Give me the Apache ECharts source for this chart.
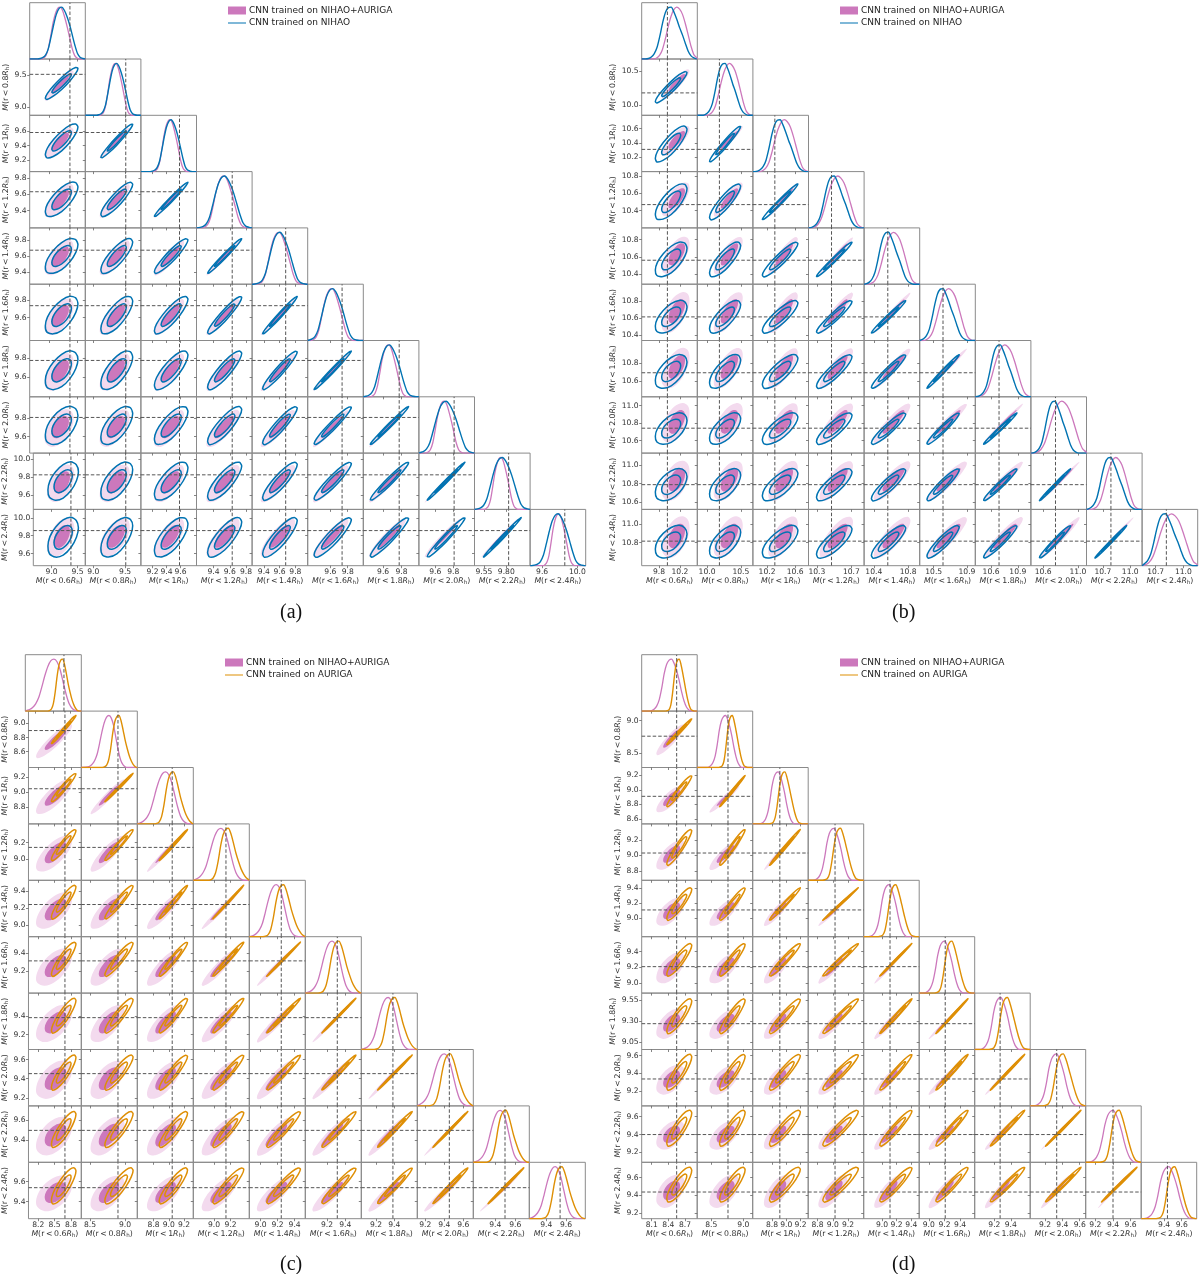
<!DOCTYPE html>
<html><head><meta charset="utf-8">
<style>html,body{margin:0;padding:0;background:#fff}#c{width:1200px;height:1274px}</style>
<script src="https://cdn.jsdelivr.net/npm/echarts@6/dist/echarts.min.js"></script>
</head><body><div id="c"></div>
<script>
const radii = ['0.6','0.8','1','1.2','1.4','1.6','1.8','2.0','2.2','2.4'];
const legendMag = 'CNN trained on NIHAO+AURIGA', legendBlue = 'CNN trained on NIHAO', legendOrange = 'CNN trained on AURIGA';
const purple = '#CC78BC', purpleLight = '#F3DAEE', blue = '#0173B2', orange = '#DE8F05';

// axis ranges per variable
const aMin = [8.645,8.874,9.033,9.19,9.25,9.338,9.385,9.418,9.446,9.464];
const aMax = [9.651,9.748,9.828,9.875,9.957,9.98,9.989,10.037,10.065,10.094];
const bMin = [9.47,9.856,10.0,10.203,10.287,10.332,10.424,10.458,10.52,10.552];
const bMax = [10.53,10.678,10.788,10.848,10.935,11.0,11.047,11.1,11.13,11.155];
const cMin = [8.021,8.376,8.585,8.752,8.867,8.964,9.04,9.116,9.18,9.227];
const cMax = [8.99,9.176,9.323,9.424,9.526,9.575,9.651,9.705,9.74,9.796];
const dMin = [7.92,8.28,8.53,8.677,8.75,8.877,8.96,9.03,9.09,9.14];
const dMax = [8.92,9.145,9.307,9.407,9.509,9.587,9.637,9.669,9.72,9.77];

// true values (dashed lines)
const aTruth = [9.373,9.51,9.585,9.63,9.677,9.735,9.775,9.81,9.826,9.857];
const bTruth = [9.96,10.183,10.311,10.47,10.563,10.612,10.69,10.742,10.788,10.815];
const cTruth = [8.69,8.9,9.045,9.144,9.243,9.313,9.385,9.453,9.497,9.54];
const dTruth = [8.55,8.76,8.91,9.03,9.11,9.21,9.27,9.335,9.4,9.438];

// tick labels
const aXTicks = [[9,9.5],[9,9.5],[9.2,9.4,9.6],[9.4,9.6,9.8],[9.4,9.6,9.8],[9.6,9.8],[9.6,9.8],[9.6,9.8],[9.55,9.8],[9.6,10]];
const bXTicks = [[9.8,10.2],[10,10.5],[10.2,10.6],[10.3,10.7],[10.4,10.8],[10.5,10.9],[10.6,10.9],[10.6,11],[10.7,11],[10.7,11]];
const cXTicks = [[8.2,8.5,8.8],[8.5,9],[8.8,9,9.2],[9,9.2],[9,9.2,9.4],[9.2,9.4],[9.2,9.4],[9.2,9.4,9.6],[9.4,9.6],[9.4,9.6]];
const dXTicks = [[8.1,8.4,8.7],[8.5,9],[8.8,9,9.2],[8.8,9,9.2],[9,9.2,9.4],[9,9.2,9.4],[9.2,9.4],[9.2,9.4,9.6],[9.2,9.4,9.6],[9.4,9.6]];
const aYTicks = [[],[9,9.5],[9.2,9.4,9.6],[9.4,9.6,9.8],[9.4,9.6,9.8],[9.6,9.8],[9.6,9.8],[9.6,9.8],[9.6,9.8,10],[9.6,9.8,10]];
const bYTicks = [[],[10,10.5],[10.2,10.4,10.6],[10.4,10.6,10.8],[10.4,10.6,10.8],[10.4,10.6,10.8],[10.6,10.8],[10.6,10.8,11],[10.6,10.8,11],[10.8,11]];
const cYTicks = [[],[8.6,8.8,9],[8.8,9,9.2],[9,9.2],[9,9.2,9.4],[9.2,9.4],[9.2,9.4],[9.2,9.4,9.6],[9.4,9.6],[9.4,9.6]];
const dYTicks = [[],[8.5,9],[8.6,8.8,9,9.2],[8.8,9,9.2],[9,9.2,9.4],[9,9.2,9.4],[9.05,9.3,9.55],[9.2,9.4,9.6],[9.2,9.4,9.6],[9.2,9.4,9.6]];

// posterior peak, width and outer-contour half extent per variable
const aMagMu = [9.198,9.355,9.454,9.533,9.596,9.62,9.663,9.703,9.743,9.792];
const aMagSig = [.131,.096,.091,.103,.106,.093,.076,.079,.071,.069];
const aMagExt = [.262,.236,.215,.205,.219,.205,.199,.204,.204,.214];
const aBlueMu = [9.223,9.369,9.466,9.537,9.604,9.627,9.669,9.721,9.756,9.781];
const aBlueSig = [.146,.107,.101,.114,.113,.103,.097,.11,.105,.101];
const aBlueExt = [.295,.25,.24,.21,.22,.215,.208,.21,.21,.222];
const bMagMu = [10.138,10.331,10.444,10.541,10.63,10.679,10.754,10.814,10.841,10.87];
const bMagSig = [.166,.126,.131,.115,.11,.114,.112,.122,.101,.121];
const bMagExt = [.265,.214,.209,.194,.214,.24,.221,.225,.214,.22];
const bBlueMu = [10.032,10.267,10.386,10.502,10.572,10.613,10.704,10.737,10.787,10.808];
const bBlueSig = [.164,.115,.121,.099,.097,.1,.093,.091,.093,.099];
const bBlueExt = [.302,.23,.252,.206,.2,.194,.187,.18,.174,.175];
const cMagMu = [8.517,8.771,8.958,9.084,9.185,9.257,9.333,9.4,9.45,9.491];
const cMagSig = [.16,.102,.121,.11,.099,.092,.092,.097,.085,.086];
const cMagExt = [.331,.243,.227,.214,.212,.2,.2,.198,.19,.178];
const cOrangeMu = [8.667,8.914,9.06,9.172,9.271,9.331,9.407,9.464,9.506,9.559];
const cOrangeSig = [.098,.09,.094,.093,.092,.086,.086,.087,.078,.08];
const cOrangeExt = [.225,.202,.187,.186,.198,.186,.189,.184,.179,.182];
const dMagMu = [8.459,8.723,8.888,9.016,9.099,9.204,9.279,9.334,9.403,9.455];
const dMagSig = [.135,.099,.089,.093,.095,.092,.088,.089,.096,.096];
const dMagExt = [.255,.234,.186,.19,.19,.192,.18,.166,.161,.183];
const dOrangeMu = [8.597,8.828,8.981,9.103,9.19,9.296,9.36,9.411,9.471,9.521];
const dOrangeSig = [.092,.08,.083,.089,.091,.085,.085,.089,.083,.08];
const dOrangeExt = [.225,.199,.216,.234,.22,.206,.21,.204,.202,.195];

// 1D posterior profile, offset in widths
const profileZ = [-2.97,-2.64,-2.31,-1.98,-1.65,-1.32,-.99,-.66,-.33,0,.33,.66,.99,1.32,1.65,1.98,2.31,2.64,2.97];
const aBlueProfile = [0,.01,.03,.08,.2,.42,.66,.86,.97,1,.94,.82,.66,.46,.26,.1,.03,.01,0];
const aMagProfile = [0,0,.02,.07,.2,.44,.7,.88,.98,1,.93,.78,.6,.4,.2,.07,.02,0,0];
const bBlueProfile = [0,.01,.04,.1,.22,.44,.7,.9,.99,1,.9,.76,.6,.46,.3,.15,.06,.02,0];
const bMagProfile = [0,0,.02,.07,.18,.38,.62,.82,.95,1,.96,.86,.68,.46,.24,.08,.02,0,0];
const cOrangeProfile = [0,0,.01,.04,.14,.36,.66,.88,.98,1,.9,.72,.52,.36,.22,.12,.05,.01,0];
const cMagProfile = [.01,.03,.07,.14,.26,.46,.68,.86,.97,1,.95,.8,.56,.32,.14,.05,.01,0,0];
const dOrangeProfile = [0,0,.01,.03,.12,.34,.64,.88,.98,1,.9,.74,.56,.38,.22,.1,.03,.01,0];
const dMagProfile = [0,.01,.04,.1,.22,.44,.72,.9,.98,1,.92,.78,.6,.38,.2,.08,.02,0,0];

// correlations between variable pairs (row by row)
const rhoMag = [[],[.9],[.8,.96],[.7,.87,.98],[.62,.78,.9,.98],[.58,.72,.83,.93,.985],[.54,.66,.77,.87,.95,.99],[.5,.6,.7,.82,.9,.96,.99],[.47,.57,.67,.78,.86,.92,.96,.995],[.45,.55,.65,.75,.82,.89,.93,.97,.995]];
const rhoBlue = [[],[.93],[.82,.97],[.72,.88,.985],[.65,.8,.92,.985],[.6,.74,.85,.94,.985],[.56,.68,.79,.88,.95,.99],[.52,.63,.73,.84,.92,.96,.99],[.5,.6,.7,.8,.88,.93,.97,.995],[.48,.58,.68,.78,.85,.9,.95,.975,.995]];
const rhoOrange = [[],[.99],[.96,.995],[.93,.97,.995],[.9,.95,.985,.998],[.89,.93,.96,.985,.998],[.87,.91,.94,.97,.99,.998],[.86,.89,.92,.95,.97,.99,.998],[.84,.87,.9,.93,.95,.97,.99,.998],[.82,.85,.88,.91,.93,.95,.97,.99,.998]];

// outline of the contours in whitened coordinates
const outerShape = [[1,0],[.86,.5],[.5,.88],[0,1],[-.5,.86],[-.87,.52],[-1,.05],[-.9,-.45],[-.52,-.85],[0,-1.02],[.52,-.85],[.87,-.47]];
const innerShape = [[.6,0],[.52,.3],[.3,.52],[0,.6],[-.3,.52],[-.52,.31],[-.6,.03],[-.53,-.28],[-.3,-.52],[0,-.6],[.3,-.52],[.52,-.29]];
const outerShapeMag = [[.92,0],[.8,.48],[.45,.85],[-.05,1],[-.55,.86],[-.92,.5],[-1.08,0],[-1,-.42],[-.6,-.88],[-.08,-1.03],[.42,-.88],[.8,-.47]];

const figures = [
 {left:29.7,top:2.7,cw:55.6,ch:56.3,min:aMin,max:aMax,truth:aTruth,xt:aXTicks,yt:aYTicks,
  m:[aMagMu,aMagSig,aMagExt,aMagProfile],o:[aBlueMu,aBlueSig,aBlueExt,aBlueProfile],rho:rhoBlue,col:blue,name:legendBlue,tag:'(a)',tx:291,ty:612,lx:223,ly:1},
 {left:641.7,top:2.7,cw:55.6,ch:56.3,min:bMin,max:bMax,truth:bTruth,xt:bXTicks,yt:bYTicks,
  m:[bMagMu,bMagSig,bMagExt,bMagProfile],o:[bBlueMu,bBlueSig,bBlueExt,bBlueProfile],rho:rhoBlue,col:blue,name:legendBlue,tag:'(b)',tx:903,ty:612,lx:835,ly:1},
 {left:25.3,top:654.7,cw:56,ch:56.4,min:cMin,max:cMax,truth:cTruth,xt:cXTicks,yt:cYTicks,
  m:[cMagMu,cMagSig,cMagExt,cMagProfile],o:[cOrangeMu,cOrangeSig,cOrangeExt,cOrangeProfile],rho:rhoOrange,col:orange,name:legendOrange,tag:'(c)',tx:291,ty:1264,lx:220,ly:653},
 {left:641.7,top:654.7,cw:55.5,ch:56.4,min:dMin,max:dMax,truth:dTruth,xt:dXTicks,yt:dYTicks,
  m:[dMagMu,dMagSig,dMagExt,dMagProfile],o:[dOrangeMu,dOrangeSig,dOrangeExt,dOrangeProfile],rho:rhoOrange,col:orange,name:legendOrange,tag:'(d)',tx:903,ty:1264,lx:835,ly:653}
];

const font = 'DejaVu Sans';
const lineIcon = 'path://M0,0h.01v.01h-.01z M0,43h225v14h-225z M224.99,99.99h.01v.01h-.01z';
const twoDec = list => list.some(t => Math.abs(t*10 - Math.round(t*10)) > 1e-6);
const tickFmt = list => v => twoDec(list) ? v.toFixed(2) : v.toFixed(1);
const labelLen = list => list.reduce((n,t)=>Math.max(n,tickFmt(list)(t).length),3);
const axisName = k => `{i|M}(r\u2009<\u2009${radii[k]}{i|R}{s|h})`;
const nameStyle = {fontFamily:font,fontSize:7.8,color:'#333',rich:{
  i:{fontFamily:font,fontSize:7.8,fontStyle:'italic',color:'#333'},
  s:{fontFamily:font,fontSize:5.6,color:'#333',verticalAlign:'bottom',padding:[3,0,0,0]}}};

const grid=[],xAxis=[],yAxis=[],series=[],legend=[],graphic=[];
function profile(vals,mu,sig,lo,hi){
  const pts=[[lo,0]];
  profileZ.forEach((z,i)=>{const x=mu+z*sig; if(x>lo&&x<hi) pts.push([x,vals[i]]);});
  pts.push([hi,0]);
  return pts;
}
figures.forEach(f=>{
  for(let r=0;r<10;r++) for(let c=0;c<=r;c++){
    const idx=grid.length, bottom=r===9, leftCol=c===0&&r>0, diag=r===c;
    grid.push({show:true,left:f.left+c*f.cw,top:f.top+r*f.ch,width:f.cw,height:f.ch,borderColor:'#8a8a8a',borderWidth:1,backgroundColor:'transparent'});
    xAxis.push({type:'value',gridIndex:idx,min:f.min[c],max:f.max[c],scale:true,
      name:bottom?axisName(c):'',nameLocation:'middle',nameGap:10.5,nameTextStyle:nameStyle,
      axisLine:{show:false},splitLine:{show:false},
      axisTick:{show:true,length:2.5,customValues:f.xt[c],lineStyle:{color:'#666',width:.8}},
      axisLabel:{show:bottom,customValues:f.xt[c],formatter:tickFmt(f.xt[c]),fontFamily:font,fontSize:7.6,color:'#333',margin:2.5,hideOverlap:false,showMinLabel:true,showMaxLabel:true}});
    yAxis.push(diag?{type:'value',gridIndex:idx,min:0,max:1.085,show:false,splitLine:{show:false}}:
     {type:'value',gridIndex:idx,min:f.min[r],max:f.max[r],scale:true,
      name:leftCol?axisName(r):'',nameLocation:'middle',nameGap:14+4.5*(labelLen(f.yt[r])-3),nameRotate:90,nameTextStyle:nameStyle,
      axisLine:{show:false},splitLine:{show:false},
      axisTick:{show:true,length:2.5,customValues:f.yt[r],lineStyle:{color:'#666',width:.8}},
      axisLabel:{show:leftCol,customValues:f.yt[r],formatter:tickFmt(f.yt[r]),fontFamily:font,fontSize:7.6,color:'#333',margin:3,hideOverlap:false,showMinLabel:true,showMaxLabel:true}});
    if(diag){
      series.push({type:'line',name:legendMag,xAxisIndex:idx,yAxisIndex:idx,data:profile(f.m[3],f.m[0][c],f.m[1][c],f.min[c],f.max[c]),symbol:'none',smooth:.25,
        lineStyle:{color:purple,width:1.3},itemStyle:{color:purple},silent:true,clip:true});
      series.push({type:'line',name:f.name,xAxisIndex:idx,yAxisIndex:idx,data:profile(f.o[3],f.o[0][c],f.o[1][c],f.min[c],f.max[c]),symbol:'none',smooth:.25,
        lineStyle:{color:f.col,width:1.4},itemStyle:{color:f.col},silent:true,clip:true});
      series.push({type:'line',xAxisIndex:idx,yAxisIndex:idx,data:[[f.truth[c],0],[f.truth[c],1.085]],symbol:'none',silent:true,
        lineStyle:{color:'#555',width:1,type:[3.5,2]}});
    } else {
      const rm=rhoMag[r][c], ro=f.rho[r][c];
      const tx=f.truth[c], ty=f.truth[r], xlo=f.min[c], xhi=f.max[c], ylo=f.min[r], yhi=f.max[r];
      const mm=[f.m[0][c],f.m[0][r],f.m[2][c],f.m[2][r]], om=[f.o[0][c],f.o[0][r],f.o[2][c],f.o[2][r]];
      const poly=(api,shape,rho,p)=>shape.map(([a,b])=>api.coord([p[0]+a*p[2],p[1]+(rho*a+Math.sqrt(1-rho*rho)*b)*p[3]]));
      series.push({type:'custom',xAxisIndex:idx,yAxisIndex:idx,silent:true,clip:true,data:[[tx,ty]],
        renderItem:(params,api)=>{
          const dash={stroke:'#555',lineWidth:1,lineDash:[3.5,2]};
          const a=api.coord([tx,ylo]),b=api.coord([tx,yhi]),c1=api.coord([xlo,ty]),c2=api.coord([xhi,ty]);
          return {type:'group',children:[
            {type:'polygon',shape:{points:poly(api,outerShapeMag,rm,mm),smooth:.35},style:{fill:purpleLight}},
            {type:'polygon',shape:{points:poly(api,innerShape,rm,mm),smooth:.35},style:{fill:purple}},
            {type:'polygon',shape:{points:poly(api,outerShape,ro,om),smooth:.25},style:{fill:'none',stroke:f.col,lineWidth:1.5}},
            {type:'polygon',shape:{points:poly(api,innerShape,ro,om),smooth:.25},style:{fill:'none',stroke:f.col,lineWidth:1.5}},
            {type:'line',shape:{x1:a[0],y1:a[1],x2:b[0],y2:b[1]},style:dash},
            {type:'line',shape:{x1:c1[0],y1:c1[1],x2:c2[0],y2:c2[1]},style:dash}
          ]};
        }});
    }
  }
  legend.push({left:f.lx,top:f.ly,orient:'vertical',itemWidth:18,itemHeight:8,itemGap:3.5,selectedMode:false,
    textStyle:{fontFamily:font,fontSize:9,color:'#222',padding:[0,0,0,-2]},
    data:[{name:legendMag,icon:'rect',itemStyle:{color:purple}},{name:f.name,icon:lineIcon,itemStyle:{color:f.col}}]});
  graphic.push({type:'text',left:f.tx-11,top:f.ty-9,style:{text:f.tag,font:'20px "Liberation Serif"',fill:'#111'}});
});
const chart=echarts.init(document.getElementById('c'),null,{renderer:'canvas'});
chart.setOption({animation:false,backgroundColor:'#fff',grid,xAxis,yAxis,series,legend,graphic});
</script></body></html>
